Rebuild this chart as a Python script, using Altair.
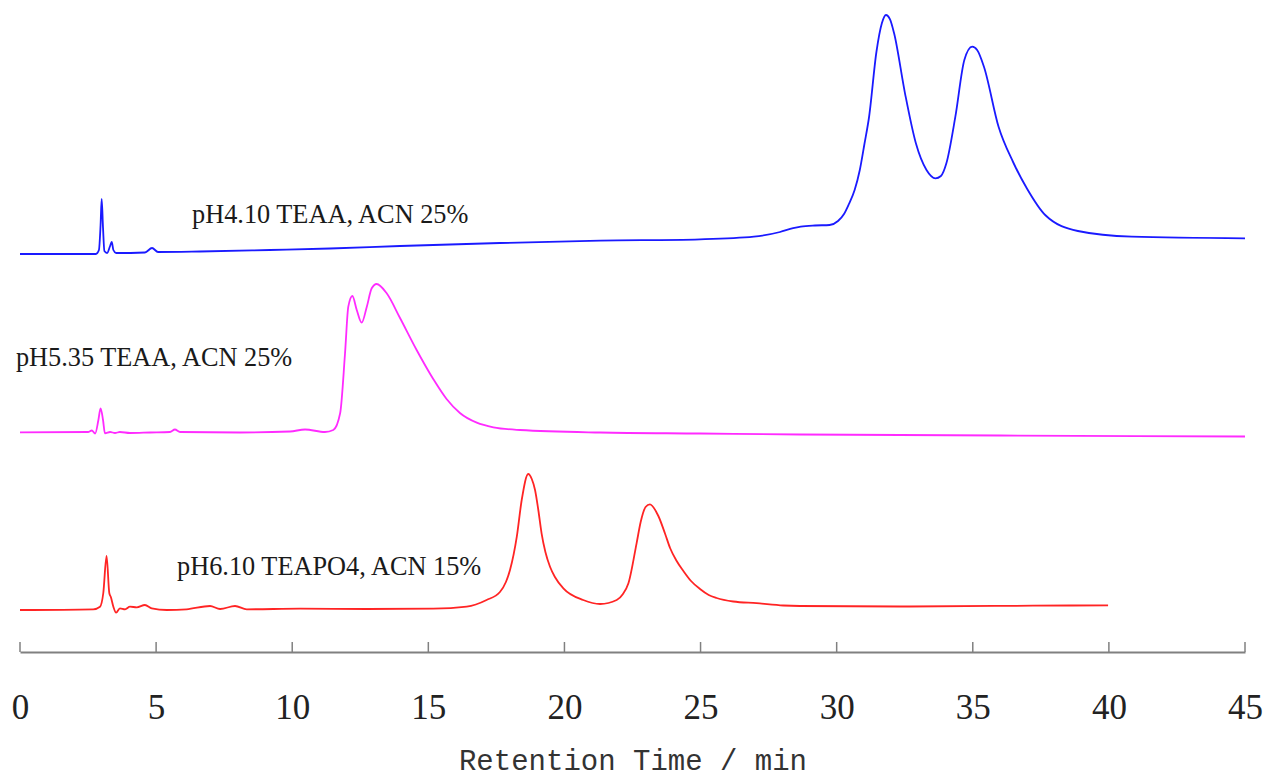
import altair as alt
import pandas as pd

# Stacked chromatograms (detector signal, arbitrary units, traces offset vertically)
blue_name = "pH4.10 TEAA, ACN 25%"
blue_t = [0.00, 2.79, 2.90, 2.96, 3.00, 3.05, 3.10, 3.20, 3.31, 3.37, 3.43, 3.53,
          4.59, 4.85, 5.07, 6.61, 9.18, 11.39, 13.96, 17.63, 21.31, 24.98, 26.96,
          27.92, 28.40, 28.68, 29.20, 29.74, 30.05, 30.27, 30.45, 30.66, 30.85,
          31.02, 31.19, 31.46, 31.66, 31.81, 31.96, 32.11, 32.51, 32.91, 33.30,
          33.63, 33.83, 34.03, 34.36, 34.69, 34.98, 35.16, 35.41, 35.95, 36.48,
          37.00, 37.66, 38.86, 40.84, 45.00]
blue_s = [398, 398, 402, 427, 453, 424, 401, 399, 406, 410, 402, 399,
          399.5, 404, 400, 400.5, 402, 403.5, 406, 409, 411.3, 412.7, 415.3,
          420, 423.8, 425.3, 426.5, 427, 431, 438, 448, 462, 482,
          508, 535, 600, 628.7, 637, 632.7, 618.7, 558.7, 508.7, 482,
          473.7, 476, 488.7, 535.3, 592, 605.3, 602, 585.3, 525, 490,
          463, 437, 421, 415.3, 413.7]

magenta_name = "pH5.35 TEAA, ACN 25%"
magenta_t = [0.00, 2.50, 2.64, 2.76, 2.88, 2.96, 3.05, 3.12, 3.31, 3.49, 3.67,
             4.04, 4.78, 5.51, 5.69, 5.88, 8.08, 9.92, 10.47, 11.20, 11.51,
             11.76, 11.94, 12.06, 12.21, 12.37, 12.55, 12.74, 12.92, 13.10,
             13.47, 13.96, 14.57, 15.18, 15.67, 16.16, 16.78, 17.39, 18.37,
             21.31, 24.98, 28.65, 36.00, 45.00]
magenta_s = [219.7, 220, 221.5, 218.5, 232, 243.7, 232, 218.7, 220, 219, 220,
             219, 219.5, 220, 222.5, 220, 219.5, 220.5, 222.5, 220, 222,
             238.7, 298.7, 345.3, 356, 342, 329.3, 345.3, 363.7, 368,
             358.7, 334, 302, 273, 253, 239, 229.3, 224.7, 222,
             219.5, 218.5, 217.5, 216.5, 215.5]

red_name = "pH6.10 TEAPO4, ACN 15%"
red_t = [0.00, 2.69, 2.94, 3.06, 3.18, 3.28, 3.34, 3.43, 3.53, 3.67, 3.86,
         4.04, 4.29, 4.59, 4.84, 5.39, 6.12, 6.98, 7.35, 7.90, 8.33, 10.29,
         12.74, 15.18, 16.41, 17.14, 17.63, 17.85, 18.00, 18.25, 18.43, 18.67,
         18.80, 18.92, 19.04, 19.16, 19.30, 19.47, 19.65, 19.96, 20.69, 21.31,
         21.92, 22.15, 22.35, 22.65, 22.80, 22.98, 23.14, 23.45, 23.70, 23.88,
         24.10, 24.37, 24.65, 24.98, 25.30, 25.59, 26.20, 27.06, 28.04, 28.65,
         32.33, 37.21, 39.97]
red_s = [42, 42.7, 45.3, 59, 96, 59, 54.7, 45.3, 39.3, 43.7, 42.7,
         45.3, 44.7, 47, 43.7, 42, 42.7, 46, 43, 46, 42.7, 43.3,
         43, 43.3, 45.3, 52, 60, 70, 82, 115.3, 152, 178,
         173, 162, 142, 118.7, 100, 85.3, 75, 63.7, 52, 48,
         52, 58, 68.7, 108.7, 130, 145, 147.7, 136, 118, 104,
         92, 81, 71, 63, 57, 54, 50.5, 48.8, 46.5, 46,
         45.5, 46.3, 46.7]

series_names = [blue_name, magenta_name, red_name]
series_colors = ["#1a1aff", "#ff2bff", "#ff2424"]

# Trace labels: anchor time and signal level
label_text = [blue_name, magenta_name, red_name]
label_t = [6.32, -0.15, 5.77]
label_s = [429, 286, 77]

tick_values = [0, 5, 10, 15, 20, 25, 30, 35, 40, 45]

rows = []
for name, ts, ss in [(blue_name, blue_t, blue_s),
                     (magenta_name, magenta_t, magenta_s),
                     (red_name, red_t, red_s)]:
    for i, (t, s) in enumerate(zip(ts, ss)):
        rows.append({"trace": name, "order": i, "time": t, "signal": s})
traces = pd.DataFrame(rows)

labels = pd.DataFrame({"label": label_text, "time": label_t, "signal": label_s})
ticks = pd.DataFrame({"time": tick_values, "lo": [0] * len(tick_values),
                      "hi": [10] * len(tick_values)})

x_scale = alt.Scale(domain=[0, 45], nice=False, zero=False)
y_scale = alt.Scale(domain=[0, 650], nice=False, zero=False)

x_axis = alt.Axis(
    values=tick_values, format="d", grid=False, ticks=False,
    domainColor="#808080", domainWidth=2,
    labelFont="Liberation Serif", labelFontSize=35, labelColor="#222222",
    labelBaseline="alphabetic", labelPadding=66, labelFlush=False,
    title="Retention Time / min", titleFont="Liberation Mono",
    titleFontSize=29, titleFontWeight="normal", titleColor="#333333",
    titleBaseline="alphabetic", titleY=117,
)

lines = alt.Chart(traces).mark_line(strokeWidth=1.8, interpolate="monotone").encode(
    x=alt.X("time:Q", scale=x_scale, axis=x_axis),
    y=alt.Y("signal:Q", scale=y_scale, axis=None),
    color=alt.Color("trace:N", scale=alt.Scale(domain=series_names, range=series_colors),
                    legend=None),
    order="order:Q",
)

tick_marks = alt.Chart(ticks).mark_rule(color="#808080", strokeWidth=1.5).encode(
    x=alt.X("time:Q", scale=x_scale),
    y=alt.Y("lo:Q", scale=y_scale),
    y2="hi:Q",
)

texts = alt.Chart(labels).mark_text(
    align="left", baseline="alphabetic", font="Liberation Serif",
    fontSize=26.3, color="#1a1a1a",
).encode(
    x=alt.X("time:Q", scale=x_scale),
    y=alt.Y("signal:Q", scale=y_scale),
    text="label:N",
)

chart = alt.layer(lines, tick_marks, texts).properties(
    width=1225, height=650,
    padding={"left": 20, "top": 2, "right": 20, "bottom": 126},
    autosize=alt.AutoSizeParams(type="none"),
    background="white",
).configure_view(stroke=None)

chart.save("out.html", embed_options={"renderer": "svg", "actions": False})
